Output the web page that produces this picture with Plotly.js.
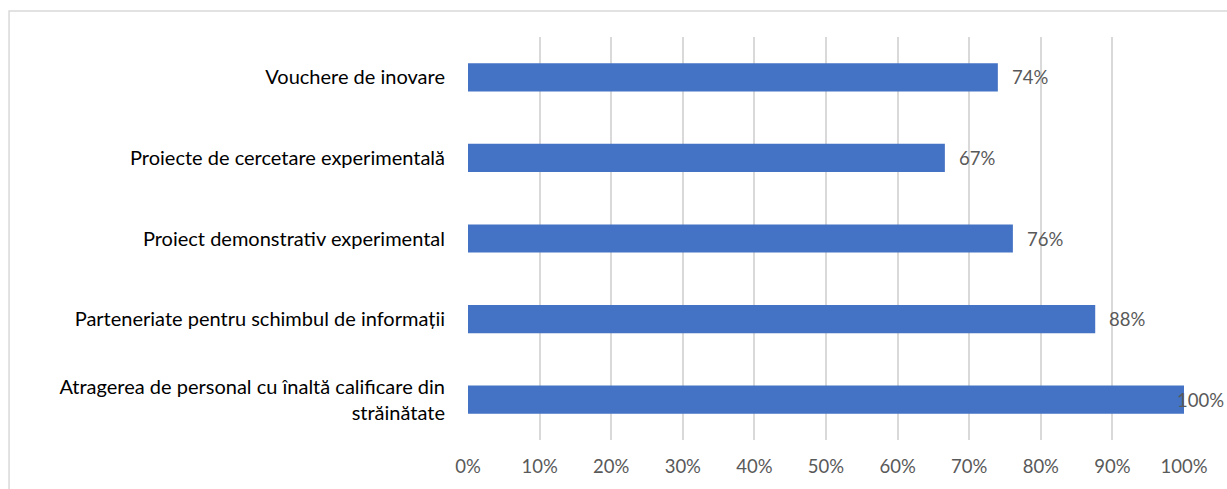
<!DOCTYPE html>
<html>
<head>
<meta charset="utf-8">
<script src="https://cdn.plot.ly/plotly-3.0.1.min.js"></script>
<style>
  html, body { margin: 0; padding: 0; background: #fff; }
  #chart { width: 1227px; height: 489px; }
</style>
</head>
<body>
<div id="chart"></div>
<script>
// Categories listed bottom to top
const categories = [
  "Atragerea de personal cu înaltă calificare din<br>străinătate",
  "Parteneriate pentru schimbul de informații",
  "Proiect demonstrativ experimental",
  "Proiecte de cercetare experimentală",
  "Vouchere de inovare"
];
const values = [1.00, 0.876, 0.761, 0.666, 0.740];
const valueLabels = ["100%", "88%", "76%", "67%", "74%"];
const tickValues = [0, 0.1, 0.2, 0.3, 0.4, 0.5, 0.6, 0.7, 0.8, 0.9, 1.0];
const tickLabels = ["0%", "10%", "20%", "30%", "40%", "50%", "60%", "70%", "80%", "90%", "100%"];

const FONT = "Lato, 'Open Sans', sans-serif";

const trace = {
  type: "bar",
  orientation: "h",
  y: categories,
  x: values,
  marker: { color: "#4472C4" },
  width: 0.35,
  hoverinfo: "none"
};

const annotations = values.map((v, i) => ({
  x: v, y: categories[i], xref: "x", yref: "y",
  text: valueLabels[i], showarrow: false,
  xanchor: "left", yanchor: "middle",
  xshift: v >= 1 ? -9 : 12,
  font: { family: FONT, size: 18.5, color: "#595959" }
}));

const layout = {
  width: 1227, height: 489,
  margin: { l: 468, r: 43, t: 37, b: 49 },
  paper_bgcolor: "#ffffff",
  plot_bgcolor: "#ffffff",
  showlegend: false,
  font: { family: FONT },
  xaxis: {
    range: [0, 1],
    tickvals: tickValues,
    ticktext: tickLabels,
    showgrid: true,
    gridcolor: "#d9d9d9",
    gridwidth: 2,
    zeroline: false,
    showline: false,
    ticks: "",
    ticklabelstandoff: 13,
    tickfont: { family: FONT, size: 18.5, color: "#595959" },
    fixedrange: true
  },
  yaxis: {
    type: "category",
    showgrid: false,
    zeroline: false,
    showline: false,
    ticks: "",
    ticklabelstandoff: 22,
    tickfont: { family: FONT, size: 20, color: "#000000" },
    fixedrange: true
  },
  annotations: annotations,
  shapes: [{
    type: "rect", xref: "paper", yref: "paper",
    x0: -0.641, x1: 1.07, y0: -0.2, y1: 1.0645,
    line: { color: "#d9d9d9", width: 1.5 },
    fillcolor: "rgba(0,0,0,0)", layer: "below"
  }]
};

Plotly.newPlot("chart", [trace], layout, { displayModeBar: false, staticPlot: true });
</script>
</body>
</html>
